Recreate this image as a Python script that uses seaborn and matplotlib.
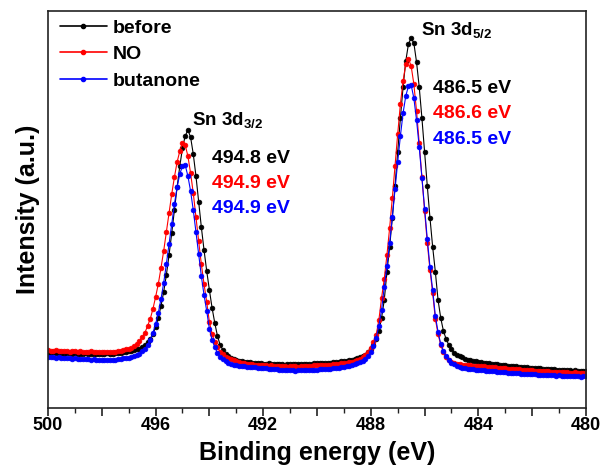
import numpy as np
import pandas as pd
import matplotlib
matplotlib.use("Agg")
import matplotlib.pyplot as plt
from matplotlib.lines import Line2D
import seaborn as sns

# Binding energy grid (eV), 0.1 eV sampling from 500 down to 480
energy = np.round(np.linspace(500.0, 480.0, 201), 1)

# Intensity (a.u.), one row per eV (500.0 -> 480.1), last value at 480.0
before = [
    55, 55, 56, 55, 55, 55, 54, 55, 55, 54,
    55, 54, 54, 54, 55, 54, 54, 54, 54, 54,
    54, 54, 55, 54, 54, 55, 55, 55, 56, 56,
    57, 57, 58, 59, 59, 61, 63, 66, 69, 74,
    81, 90, 102, 116, 133, 153, 175, 198, 221, 242,
    260, 272, 278, 271, 254, 232, 206, 181, 158, 137,
    118, 100, 85, 72, 63, 58, 54, 52, 50, 49,
    48, 47, 47, 46, 46, 46, 45, 45, 45, 45,
    44, 44, 45, 44, 44, 44, 44, 44, 43, 44,
    44, 44, 44, 44, 44, 44, 44, 44, 44, 45,
    45, 45, 45, 45, 45, 45, 46, 46, 46, 47,
    47, 47, 48, 48, 49, 50, 51, 52, 53, 56,
    59, 63, 69, 77, 90, 108, 136, 161, 190, 222,
    256, 290, 321, 347, 364, 370, 365, 346, 321, 290,
    256, 222, 190, 161, 136, 108, 90, 77, 69, 63,
    59, 55, 53, 52, 51, 49, 48, 48, 47, 47,
    46, 46, 45, 45, 45, 44, 44, 44, 43, 43,
    43, 42, 42, 42, 42, 41, 41, 41, 41, 40,
    40, 40, 40, 40, 39, 39, 39, 39, 39, 38,
    38, 38, 38, 38, 38, 37, 38, 37, 37, 37,
    37,
]
no_gas = [
    58, 57, 57, 58, 57, 57, 57, 57, 56, 57,
    57, 56, 57, 56, 56, 56, 57, 56, 56, 56,
    56, 56, 56, 56, 56, 56, 57, 57, 58, 59,
    59, 60, 62, 64, 67, 71, 75, 82, 89, 99,
    111, 124, 140, 157, 176, 195, 214, 231, 246, 257,
    265, 263, 252, 235, 215, 191, 167, 144, 124, 106,
    86, 74, 66, 61, 56, 54, 51, 50, 49, 48,
    47, 46, 45, 45, 44, 44, 44, 43, 43, 43,
    43, 43, 42, 43, 42, 42, 42, 42, 42, 41,
    42, 42, 42, 41, 42, 42, 42, 42, 42, 43,
    43, 43, 43, 43, 43, 43, 44, 44, 44, 45,
    45, 45, 46, 46, 47, 48, 49, 51, 53, 56,
    60, 66, 73, 88, 110, 129, 153, 180, 210, 242,
    274, 304, 327, 344, 349, 342, 324, 297, 265, 231,
    197, 165, 138, 115, 89, 74, 63, 56, 51, 48,
    46, 45, 44, 44, 43, 43, 43, 43, 42, 42,
    42, 42, 42, 41, 41, 41, 41, 40, 40, 40,
    40, 39, 39, 39, 39, 39, 38, 38, 38, 38,
    38, 37, 37, 37, 37, 37, 37, 36, 36, 36,
    36, 36, 36, 36, 35, 35, 36, 35, 35, 35,
    35,
]
butanone = [
    51, 51, 51, 50, 51, 50, 50, 50, 50, 49,
    50, 49, 49, 49, 49, 49, 48, 49, 48, 48,
    48, 48, 48, 48, 48, 48, 49, 49, 50, 50,
    50, 51, 52, 53, 54, 57, 59, 63, 68, 75,
    84, 95, 109, 125, 144, 164, 184, 204, 221, 234,
    242, 243, 232, 217, 198, 176, 154, 132, 113, 97,
    79, 68, 61, 55, 51, 49, 47, 45, 44, 43,
    43, 42, 42, 42, 41, 41, 41, 41, 40, 40,
    40, 40, 39, 39, 39, 39, 38, 38, 38, 38,
    38, 38, 37, 38, 38, 38, 38, 38, 38, 38,
    38, 39, 39, 39, 39, 39, 40, 40, 40, 41,
    41, 42, 42, 43, 44, 45, 46, 47, 49, 52,
    56, 62, 70, 82, 98, 121, 142, 165, 191, 219,
    246, 272, 295, 312, 322, 323, 310, 288, 261, 230,
    199, 169, 141, 118, 92, 76, 64, 57, 52, 48,
    45, 44, 42, 41, 40, 40, 39, 39, 39, 38,
    38, 38, 38, 37, 37, 37, 37, 36, 36, 36,
    36, 35, 35, 35, 35, 35, 34, 34, 34, 34,
    34, 34, 33, 33, 33, 33, 33, 33, 33, 32,
    33, 32, 32, 32, 32, 32, 32, 32, 31, 32,
    32,
]

samples = ["before", "NO", "butanone"]
colors = ["#000000", "#FF0000", "#0000FF"]
peak_names = ["Sn 3d$_{3/2}$", "Sn 3d$_{5/2}$"]
peak1_labels = ["494.8 eV", "494.9 eV", "494.9 eV"]
peak2_labels = ["486.5 eV", "486.6 eV", "486.5 eV"]
major_ticks = list(range(480, 501, 2))
minor_ticks = list(range(480, 501, 1))

sns.set_theme(style="white")
plt.rcParams["font.family"] = ["Liberation Sans", "DejaVu Sans"]
plt.rcParams["font.weight"] = "bold"
plt.rcParams["axes.labelweight"] = "bold"
plt.rcParams["mathtext.default"] = "regular"
plt.rcParams["text.color"] = "black"
plt.rcParams["axes.labelcolor"] = "black"
plt.rcParams["xtick.color"] = "black"
plt.rcParams["xtick.labelcolor"] = "black"

df = pd.DataFrame({
    "energy": np.tile(energy, len(samples)),
    "intensity": before + no_gas + butanone,
    "sample": np.repeat(samples, len(energy)),
})

fig = plt.figure(figsize=(6.08, 4.74), dpi=100)
ax = fig.add_axes([48 / 608, 66 / 474, 538 / 608, 397 / 474])

sns.lineplot(data=df, x="energy", y="intensity", hue="sample",
             hue_order=samples, palette=colors, marker="o", markersize=3.4,
             linewidth=0.8, errorbar=None, legend=False, sort=False, ax=ax)
for line in ax.lines:
    line.set_markeredgecolor(line.get_color())
    line.set_markeredgewidth(0.5)

ax.set_xlim(500, 480)
ax.set_ylim(0, 397)
ax.set_xticks(major_ticks)
ax.set_xticklabels([str(t) if t % 4 == 0 else "" for t in major_ticks])
ax.set_xticks(minor_ticks, minor=True)
ax.set_yticks([])
ax.tick_params(axis="x", which="major", direction="out", length=6, width=1.2,
               bottom=True, top=False, labelsize=13, pad=0.5,
               color="#222222", labelcolor="black")
ax.tick_params(axis="x", which="minor", direction="out", length=3.5, width=1.0,
               bottom=True, top=False, color="#222222")
for sp in ax.spines.values():
    sp.set_color("#222222")
    sp.set_linewidth(1.2)

ax.set_xlabel("Binding energy (eV)", fontsize=18, fontweight="bold",
              labelpad=5, color="black")
ax.set_ylabel("Intensity (a.u.)", fontsize=18, fontweight="bold",
              labelpad=6, color="black")

ax.text(494.65, 283, peak_names[0], fontsize=13.5, fontweight="bold",
        ha="left", va="baseline", color="black")
ax.text(486.15, 373, peak_names[1], fontsize=13.5, fontweight="bold",
        ha="left", va="baseline", color="black")
for i, (lab, c) in enumerate(zip(peak1_labels, colors)):
    ax.text(493.9, 245 - 25 * i, lab, color=c, fontsize=14, fontweight="bold",
            ha="left", va="baseline")
for i, (lab, c) in enumerate(zip(peak2_labels, colors)):
    ax.text(485.68, 315 - 25.5 * i, lab, color=c, fontsize=14, fontweight="bold",
            ha="left", va="baseline")

handles = [Line2D([], [], color=c, marker="o", markersize=3, lw=1.2,
                  markeredgecolor=c) for c in colors]
ax.legend(handles, samples, loc="upper left", bbox_to_anchor=(0.022, 0.98),
          frameon=False, handlelength=2.4, handletextpad=0.3,
          labelspacing=0.46, borderaxespad=0, borderpad=0,
          prop={"weight": "bold", "size": 14})

fig.savefig("out.png", dpi=100)
